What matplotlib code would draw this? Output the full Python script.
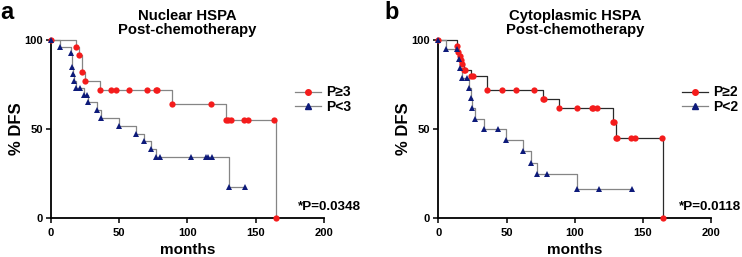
import matplotlib
matplotlib.use("Agg")
import matplotlib.pyplot as plt

plt.rcParams["font.family"] = ["Liberation Sans", "DejaVu Sans"]
plt.rcParams["font.weight"] = "bold"

# ---------------------------------------------------------------------------
# Data
# ---------------------------------------------------------------------------

# panel a - nuclear HSPA
a_hi_t = [0, 18.2, 20.3, 22.9, 24.9, 36, 44, 47.4, 57, 70.7, 77, 77.7, 89,
          117, 128.2, 129.5, 131.8, 141.6, 144.2, 163.6, 164.8]
a_hi_s = [100, 96, 91.5, 82, 77, 72, 72, 72, 72, 72, 72, 72, 64,
          64, 55, 55, 55, 55, 55, 55, 0]
a_lo_t = [0, 6.6, 14.4, 15.3, 16.2, 17.1, 18.2, 21.2, 24.4, 26.6, 27.3, 33.9,
          36.4, 49.8, 62, 68.4, 73.3, 77, 80, 102.3, 113.3, 114.8, 118.2,
          130.4, 142.3]
a_lo_s = [100, 96.2, 92.5, 85, 81, 77, 73.1, 73.1, 69.2, 69.2, 65.4, 60.5,
          56, 51.5, 47.2, 43, 38.6, 34.5, 34.5, 34.5, 34.5, 34.5, 34.5,
          17.2, 17.2]

# panel b - cytoplasmic HSPA
b_hi_t = [0, 13.5, 14.4, 15.7, 16.6, 17.4, 18.8, 19.8, 24, 25.7, 36, 46.5,
          56.8, 70.5, 76.8, 77.5, 88.8, 101.6, 112.5, 113.7, 116.6, 128,
          128.6, 130.3, 131.3, 141.3, 144.5, 163.8, 165]
b_hi_s = [100, 96.8, 93.5, 91, 89, 86.5, 83.2, 83.2, 79.5, 79.5, 71.8, 71.8,
          71.8, 71.8, 67, 67, 61.8, 61.8, 61.8, 61.8, 61.8, 54,
          54, 45.2, 45.2, 45.2, 45.2, 45.2, 0]
b_lo_t = [0, 5.9, 13.9, 15.2, 15.7, 17.6, 20.8, 22.5, 23.7, 24.5, 26.7, 33.7,
          43.5, 49.7, 61.9, 67.8, 72.6, 79.5, 101.9, 117.9, 142.3]
b_lo_s = [100, 94.8, 94.8, 89.2, 84, 78.7, 78.7, 73, 67.3, 61.6, 55.8, 50.2,
          50.2, 44, 37.6, 31, 24.6, 24.6, 16.2, 16.2, 16.2]

panels = [
    ("a", "Nuclear HSPA\nPost-chemotherapy", "P\u22653", "P<3", "*P=0.0348",
     a_hi_t, a_hi_s, a_lo_t, a_lo_s, "#858585", 0.0687, 0.0, 0.905),
    ("b", "Cytoplasmic HSPA\nPost-chemotherapy", "P\u22652", "P<2", "*P=0.0118",
     b_hi_t, b_hi_s, b_lo_t, b_lo_s, "#2a2a2a", 0.5907, 0.5175, 0.883),
]

RED = "#f41c1c"
NAVY = "#0d1a7a"
GREY = "#858585"

fig = plt.figure(figsize=(7.42, 2.57), dpi=100)

for (letter, title, lab_hi, lab_lo, ptxt, t_hi, s_hi, t_lo, s_lo,
     hi_line, left, letter_x, p_x) in panels:
    ax = fig.add_axes([left, 0.1518, 0.3677, 0.6926])

    # step curves, symbols at every event / censored point
    ax.plot(t_hi, s_hi, drawstyle="steps-post", color=hi_line, lw=0.9,
            clip_on=False, zorder=2)
    ax.plot(t_hi, s_hi, "o", color=RED, ms=4.5, mew=0, clip_on=False,
            zorder=3)
    ax.plot(t_lo, s_lo, drawstyle="steps-post", color=GREY, lw=0.9,
            clip_on=False, zorder=2)
    ax.plot(t_lo, s_lo, "^", color=NAVY, ms=4.5, mew=0, clip_on=False,
            zorder=4)

    # legend handles
    h1, = ax.plot([], [], "-o", color=hi_line, mfc=RED, mec=RED, ms=4,
                  lw=0.9)
    h2, = ax.plot([], [], "-^", color=GREY, mfc=NAVY, mec=NAVY, ms=4,
                  lw=0.9)
    ax.legend([h1, h2], [lab_hi, lab_lo], loc="upper left",
              bbox_to_anchor=(0.893, 0.745), frameon=False,
              handlelength=1.9, handletextpad=0.35, borderpad=0,
              borderaxespad=0, labelspacing=0.05,
              prop={"weight": "bold", "size": 10})

    ax.set_xlim(0, 200)
    ax.set_ylim(0, 100)
    ax.set_xticks([0, 50, 100, 150, 200])
    ax.set_yticks([0, 50, 100])
    for side in ("top", "right"):
        ax.spines[side].set_visible(False)
    for side in ("left", "bottom"):
        ax.spines[side].set_linewidth(1.3)
    ax.tick_params(length=3.5, width=1.1, labelsize=8, pad=2.5)
    ax.tick_params(axis="x", pad=4)
    for lab in ax.get_xticklabels() + ax.get_yticklabels():
        lab.set_fontweight("bold")

    ax.set_xlabel("months", fontsize=11, fontweight="bold", labelpad=3.5)
    ax.set_ylabel("% DFS", fontsize=12, fontweight="bold", labelpad=0)
    ax.set_title(title, fontsize=10.7, fontweight="bold", pad=4,
                 linespacing=1.08)
    ax.text(p_x, 0.03, ptxt, transform=ax.transAxes, ha="left",
            va="bottom", fontsize=9.7, fontweight="bold")

    fig.text(letter_x, 0.995, letter, fontsize=17, fontweight="bold",
             va="top", ha="left")

fig.savefig("out.png", dpi=100)
